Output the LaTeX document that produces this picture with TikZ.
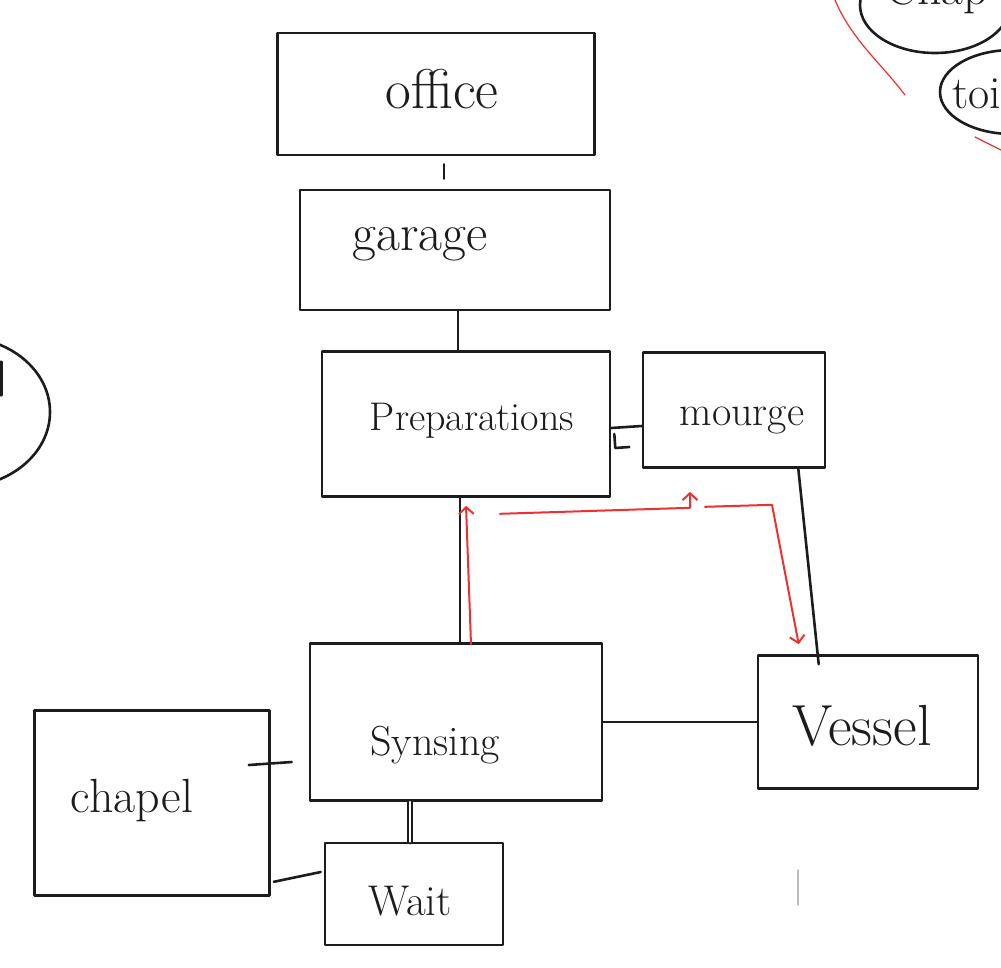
\documentclass[tikz,border=0pt]{standalone}
\usetikzlibrary{arrows.meta,calc}
\definecolor{ink}{RGB}{28,28,28}
\definecolor{redink}{RGB}{238,48,48}
\tikzset{
  box/.style={draw=ink, line width=2.6pt, rectangle, inner sep=0pt},
  lbl/.style={inner sep=0pt, anchor=base, text=ink},
  conn/.style={draw=ink, line width=2.6pt},
  redarr/.style={draw=redink, line width=2pt, -{Straight Barb[length=7pt,width=15pt,line width=2pt]}},
  redline/.style={draw=redink, line width=1.2pt},
  blob/.style={draw=ink, line width=2.6pt},
}
\newcommand{\fs}[1]{\fontsize{#1}{#1}\selectfont}
\begin{document}
\begin{tikzpicture}[x=1pt,y=-1pt, line cap=round, line join=round]
\useasboundingbox (0,0) rectangle (1001,967);
% boxes
\node[box, minimum width=317pt, minimum height=122pt] (officebox) at (436,94) {};
\node[box, minimum width=310pt, minimum height=120pt] (garagebox) at (455,250) {};
\node[box, minimum width=288pt, minimum height=145pt] (prepbox) at (466,424) {};
\node[box, minimum width=182pt, minimum height=115pt] (mourgebox) at (734,410) {};
\node[box, minimum width=292pt, minimum height=157pt] (synbox) at (456,722) {};
\node[box, minimum width=220pt, minimum height=133pt] (vesselbox) at (868,722) {};
\node[box, minimum width=235pt, minimum height=185pt] (chapelbox) at (152,803) {};
\node[box, minimum width=178pt, minimum height=102pt] (waitbox) at (414,894) {};
% labels
\node[lbl, font=\fs{56}] (office) at (442,108) {office};
\node[lbl, font=\fs{52}] (garage) at (420,250) {garage};
\node[lbl, font=\fs{40}] (prep) at (472,430) {Preparations};
\node[lbl, font=\fs{42}] (mourge) at (742,425) {mourge};
\node[lbl, font=\fs{42}] (syn) at (435,755) {Synsing};
\node[lbl, font=\fs{58}] (vessel) at (862,745) {Vessel};
\node[lbl, font=\fs{48}] (chapel) at (132,812) {chapel};
\node[lbl, font=\fs{43}] (wait) at (410,915) {Wait};
% black connectors
\draw[conn] ($(officebox.south)+(8,8)$) -- ($(garagebox.north)+(-11,-10)$);
\draw[conn] ($(garagebox.south)+(3,0)$) -- ($(prepbox.north)+(-8,0)$);
\draw[conn] ($(prepbox.east)+(0,4)$) -- ($(mourgebox.west)+(0,16)$);
\draw[conn] ($(prepbox.east)+(3,10)$) -- ++(1,14) -- ++(14,-1);
\draw[conn] ($(prepbox.south)+(-6,0)$) -- ($(synbox.north)+(4,0)$);
\draw[conn] ($(mourgebox.south east)+(-28,0)$) -- ($(vesselbox.north west)+(62,10)$);
\draw[conn] (synbox.east) -- (vesselbox.west);
\coordinate (cs) at ($(synbox.west)+(-17,40)$);
\draw[conn] ($(chapelbox.east)+(-22,-38)$) -- (cs);
\draw[conn] ($(chapelbox.south east)+(3,-15)$) -- ($(waitbox.west)+(-3,-22)$);
\draw[draw=ink, line width=1.6pt, double=white, double distance=2pt] ($(synbox.south)+(-46,0)$) -- ($(waitbox.north)+(-4,0)$);
% red arrows
\draw[redarr] ($(synbox.north)+(15,2)$) -- ($(prepbox.south)+(0,8)$);
\coordinate (ra) at ($(prepbox.south)+(34,16)$);
\draw[redarr] (ra) -- ++(190,-6) -- ($(mourgebox.south)+(-44,23)$);
\coordinate (rb) at ($(mourgebox.south)+(-29,38)$);
\draw[redarr] (rb) -- ++(67,-2) -- ($(vesselbox.north west)+(42,-10)$);
% partial ellipses at the edges
\draw[blob] (935,5) ellipse [x radius=75, y radius=48];
\node[lbl, anchor=base west, font=\fs{48}] (chap) at (885,4) {Chap};
\draw[blob] (1012,92) ellipse [x radius=72, y radius=42];
\node[lbl, anchor=base west, font=\fs{46}] (toi) at (952,108) {toilet};
\draw[blob] (-40,412) ellipse [x radius=90, y radius=75];
\draw[conn, line width=3pt] (1,362) -- (1,395);
\draw[redline] (835,0) .. controls (852,40) and (880,62) .. (905,95);
\draw[redline] (975,137) -- (1001,150);
\draw[draw=ink!30, line width=1.2pt] (798,870) -- (798,905);
\end{tikzpicture}
\end{document}
